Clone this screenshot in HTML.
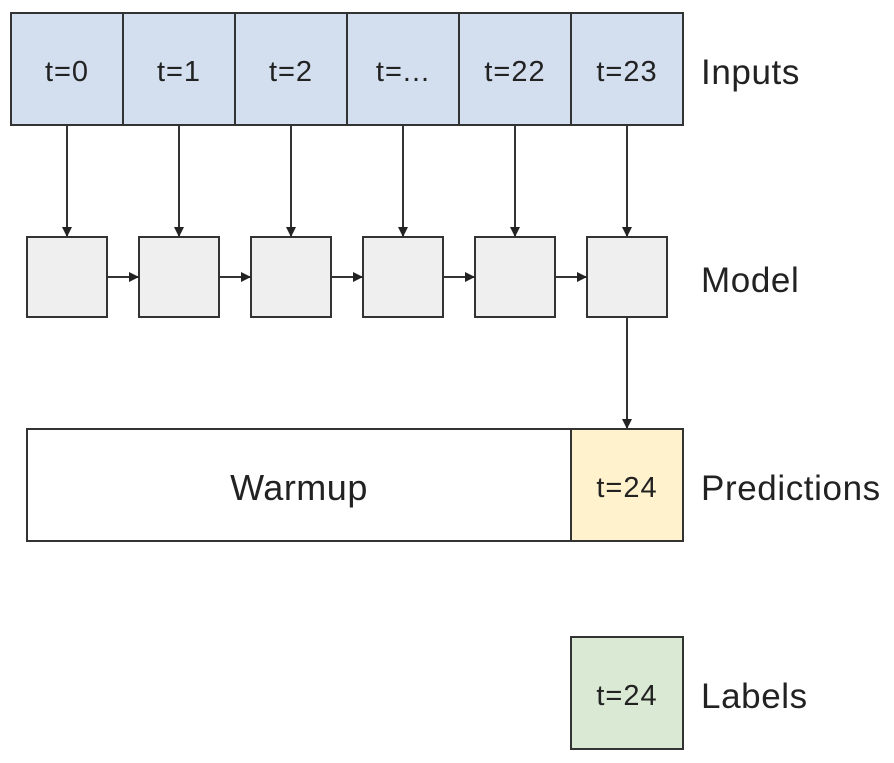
<!DOCTYPE html><html><head><style>body{margin:0;background:#fff}</style></head><body>
<svg width="894" height="758" xmlns="http://www.w3.org/2000/svg" font-family="Liberation Sans, sans-serif">
<defs><marker id="a" markerWidth="10" markerHeight="10" refX="9" refY="5" orient="auto" markerUnits="userSpaceOnUse"><path d="M0,0L10,5L0,10z" fill="#222"/></marker></defs>
<g stroke="#333" stroke-width="2">
<rect x="11" y="13" width="672" height="112" fill="#d3dfee"/>
<line x1="123" y1="13" x2="123" y2="125"/><line x1="235" y1="13" x2="235" y2="125"/><line x1="347" y1="13" x2="347" y2="125"/><line x1="459" y1="13" x2="459" y2="125"/><line x1="571" y1="13" x2="571" y2="125"/>
<g fill="#efefef">
<rect x="27" y="237" width="80" height="80"/><rect x="139" y="237" width="80" height="80"/><rect x="251" y="237" width="80" height="80"/><rect x="363" y="237" width="80" height="80"/><rect x="475" y="237" width="80" height="80"/><rect x="587" y="237" width="80" height="80"/>
</g>
<g marker-end="url(#a)">
<line x1="67" y1="125" x2="67" y2="236"/><line x1="179" y1="125" x2="179" y2="236"/><line x1="291" y1="125" x2="291" y2="236"/><line x1="403" y1="125" x2="403" y2="236"/><line x1="515" y1="125" x2="515" y2="236"/><line x1="627" y1="125" x2="627" y2="236"/>
<line x1="107" y1="277" x2="138" y2="277"/><line x1="219" y1="277" x2="250" y2="277"/><line x1="331" y1="277" x2="362" y2="277"/><line x1="443" y1="277" x2="474" y2="277"/><line x1="555" y1="277" x2="586" y2="277"/>
<line x1="627" y1="317" x2="627" y2="428"/>
</g>
<rect x="27" y="429" width="544" height="112" fill="#fff"/>
<rect x="571" y="429" width="112" height="112" fill="#fff2cc"/>
<rect x="571" y="637" width="112" height="112" fill="#d9e9d3"/>
</g>
<g font-size="29" fill="#222" text-anchor="middle" letter-spacing="1">
<text x="67" y="81">t=0</text><text x="179" y="81">t=1</text><text x="291" y="81">t=2</text><text x="403" y="81">t=...</text><text x="515" y="81">t=22</text><text x="627" y="81">t=23</text>
<text x="299" y="500" font-size="36" letter-spacing="0.5">Warmup</text>
<text x="627" y="497">t=24</text><text x="627" y="705">t=24</text>
</g>
<g font-size="35" fill="#222" letter-spacing="0.6">
<text x="701" y="84">Inputs</text><text x="701" y="292">Model</text><text x="701" y="500">Predictions</text><text x="701" y="708">Labels</text>
</g>
</svg></body></html>
